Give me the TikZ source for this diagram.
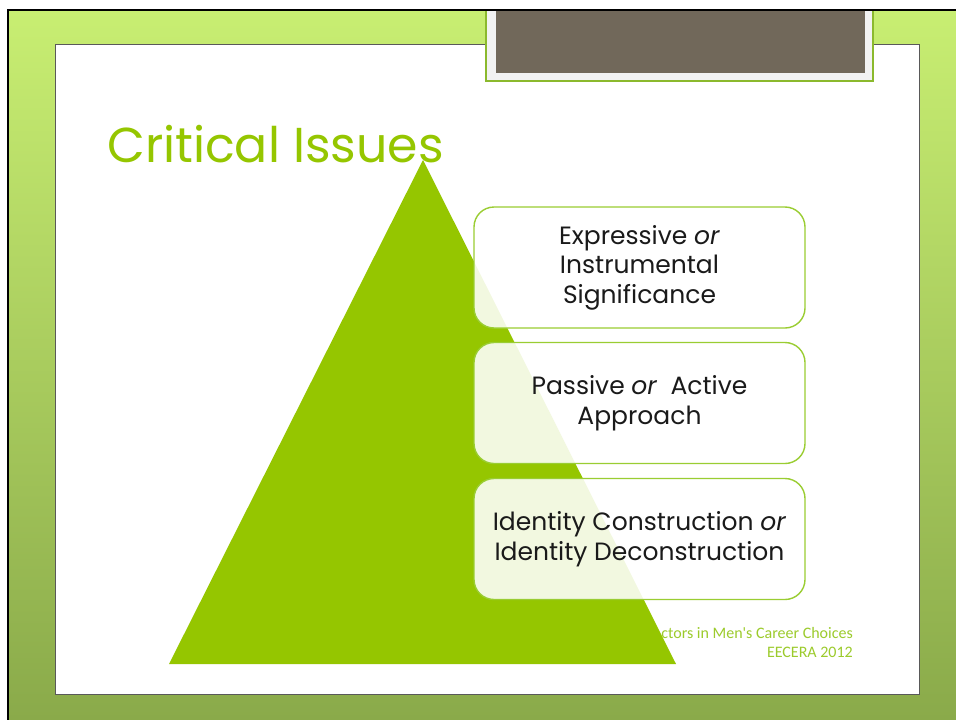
\documentclass[tikz,border=0pt]{standalone}
\usepackage{fontspec}
\setmainfont{Poppins}
\newfontfamily\footfont{Carlito}
\definecolor{leaf}{HTML}{95C600}
\definecolor{leafline}{HTML}{9ACD32}
\definecolor{frametop}{HTML}{C8EE72}
\definecolor{framebot}{HTML}{8AAA4A}
\definecolor{tabbrown}{HTML}{71685A}
\definecolor{tabgrey}{HTML}{F2F2F2}
\definecolor{foottext}{HTML}{9CCB2C}
\definecolor{bodytext}{HTML}{1A1A1A}
\tikzset{
  issuebox/.style={draw=leafline, line width=1.4pt, rounded corners=20pt,
    fill=white, fill opacity=0.88, text opacity=1, text=bodytext,
    minimum width=331pt, minimum height=121pt, align=center,
    font=\fontsize{25pt}{29.5pt}\selectfont},
  footline/.style={anchor=base east, text=foottext,
    font=\footfont\fontsize{16pt}{18pt}\selectfont, inner sep=0pt},
}
\begin{document}
\begin{tikzpicture}[x=1pt,y=-1pt]
  \useasboundingbox (0,0) rectangle (956,720);
  \fill[white] (0,0) rectangle (956,720);
  % green frame around the slide
  \shade[top color=frametop, bottom color=framebot] (8,10) rectangle (956,720);
  \fill[white] (55,44) rectangle (919,694);
  \draw[black!65, line width=1pt] (55,694) -- (55,44) -- (919,44) -- (919,694) -- cycle;
  % title tab at the top edge
  \fill[tabgrey] (486,10) rectangle (873,81);
  \draw[leafline!90!black, line width=1.2pt] (486,10) -- (486,81) -- (873,81) -- (873,10);
  \fill[tabbrown] (496,10) rectangle (865,73);
  % outer edge lines
  \draw[black, line width=2pt] (8,720) -- (8,10) -- (956,10);
  % title
  \node[anchor=base west, inner sep=0pt, text=leaf,
        font=\fontsize{49pt}{55pt}\selectfont] (title) at (107,162) {Critical Issues};
  % footer
  \node[footline] (foot1) at (853,638) {ctors in Men's Career Choices};
  \node[footline] (foot2) at (853,657) {EECERA 2012};
  % pyramid
  \fill[leaf] (423,160) -- (676,664) -- (169,664) -- cycle;
  % issue boxes
  \node[issuebox] (b1) at (639.5,267.5) {Expressive \textit{or}\\Instrumental\\Significance};
  \node[issuebox] (b2) at (639.5,403) {Passive \textit{or}~ Active\\Approach};
  \node[issuebox] (b3) at (639.5,539) {Identity Construction \textit{or}\\Identity Deconstruction};
\end{tikzpicture}
\end{document}
